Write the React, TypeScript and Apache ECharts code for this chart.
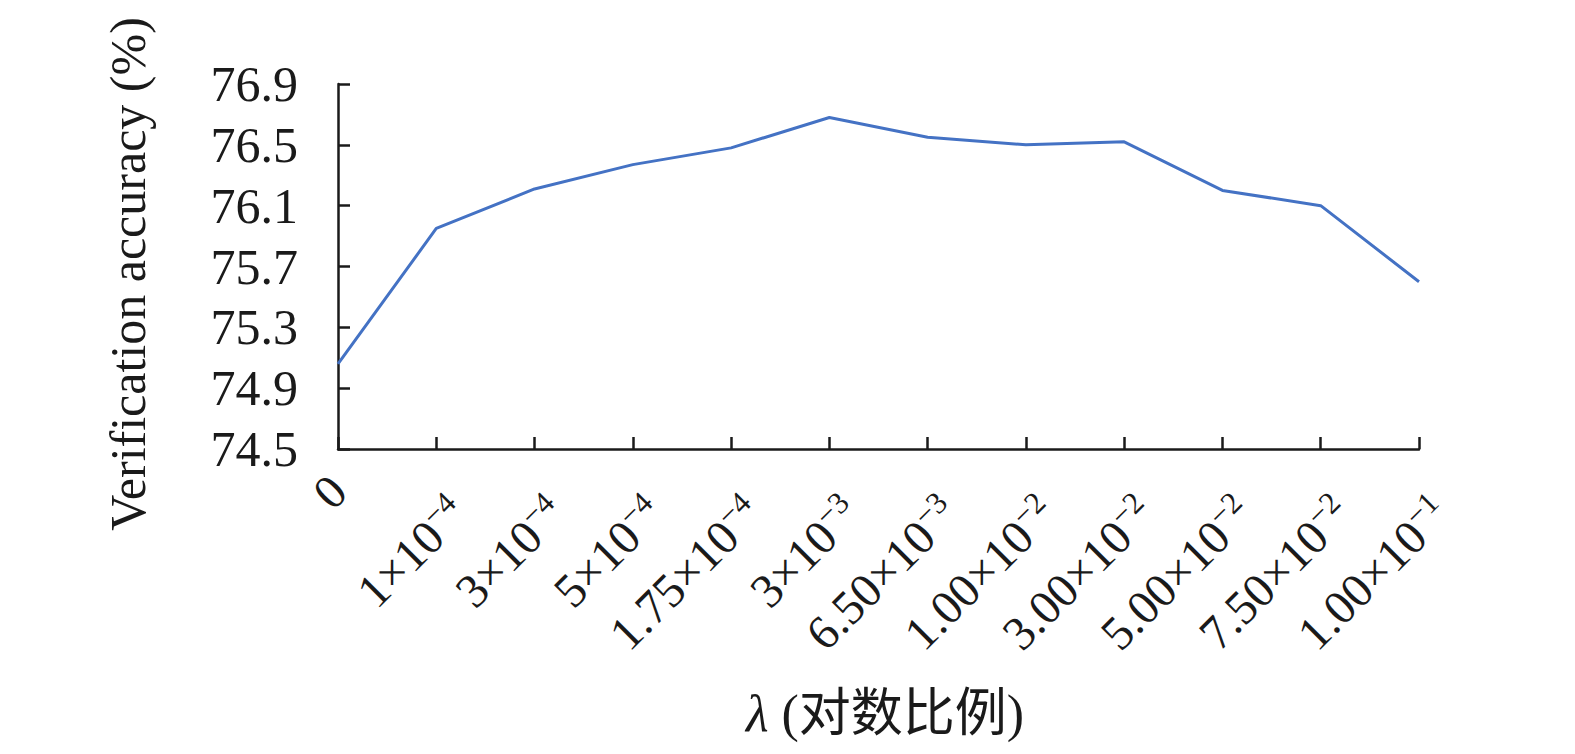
import React, { useEffect, useRef } from 'react';
import * as echarts from 'echarts';

const categories = ['0', '1×10^−4', '3×10^−4', '5×10^−4', '1.75×10^−4', '3×10^−3', '6.50×10^−3', '1.00×10^−2', '3.00×10^−2', '5.00×10^−2', '7.50×10^−2', '1.00×10^−1'];
const accuracy = [75.06, 75.95, 76.21, 76.37, 76.48, 76.68, 76.55, 76.5, 76.52, 76.2, 76.1, 75.6];
const yTicks = [74.5, 74.9, 75.3, 75.7, 76.1, 76.5, 76.9];
const yAxisName = 'Verification accuracy (%)';
const xAxisSymbol = 'λ';
const xAxisRest = ' (对数比例)';

const SERIF = 'Liberation Serif';
const CJK = 'Liberation Serif, Noto Sans CJK SC';
const INK = '#1a1a1a';

export default function App() {
  const ref = useRef<HTMLDivElement>(null);
  useEffect(() => {
    if (!ref.current) return;
    const chart = echarts.init(ref.current, null, { renderer: 'svg' });
    chart.setOption({
      animation: false,
      backgroundColor: '#ffffff',
      grid: { left: 338, right: 156, top: 84, bottom: 305, containLabel: false },
      xAxis: {
        type: 'category',
        data: categories,
        boundaryGap: false,
        axisLine: { lineStyle: { color: INK, width: 2.5 } },
        axisTick: { inside: true, length: 12, lineStyle: { color: INK, width: 2.5 }, alignWithLabel: true },
        axisLabel: {
          rotate: 45,
          margin: 34,
          interval: 0,
          color: INK,
          formatter: (v: string) => {
            const [b, s] = v.split('^');
            return s ? `{b|${b}}{s|${s}}` : `{z|${b}}`;
          },
          rich: {
            z: { fontSize: 48, fontFamily: SERIF, color: INK, lineHeight: 54 },
            b: { fontSize: 48, fontFamily: SERIF, color: INK, lineHeight: 48, verticalAlign: 'bottom' },
            s: { fontSize: 31, fontFamily: SERIF, color: INK, verticalAlign: 'bottom', padding: [60, 0, 20, 0] },
          },
        },
        splitLine: { show: false },
      },
      yAxis: {
        type: 'value',
        min: 74.5,
        max: 76.9,
        axisLine: { show: true, lineStyle: { color: INK, width: 2.5 } },
        axisTick: { show: true, inside: true, length: 12, lineStyle: { color: INK, width: 2.5 }, customValues: yTicks },
        axisLabel: {
          margin: 40,
          fontSize: 50,
          fontFamily: SERIF,
          color: INK,
          customValues: yTicks,
          formatter: (v: number) => v.toFixed(1),
        },
        splitLine: { show: false },
      },
      series: [
        {
          type: 'line',
          data: accuracy,
          symbol: 'none',
          lineStyle: { color: '#4472C4', width: 3 },
          itemStyle: { color: '#4472C4' },
        },
      ],
      graphic: [
        {
          type: 'text',
          x: 128,
          y: 274,
          rotation: Math.PI / 2,
          style: {
            text: yAxisName,
            fontSize: 50,
            fontFamily: SERIF,
            fill: INK,
            align: 'center',
            verticalAlign: 'middle',
            textAlign: 'center',
            textVerticalAlign: 'middle',
          },
        },
        {
          type: 'text',
          x: 885,
          y: 713,
          style: {
            text: `{l|${xAxisSymbol}}{r|${xAxisRest}}`,
            rich: {
              l: { fontSize: 52, fontFamily: SERIF, fontStyle: 'italic', fill: INK },
              r: { fontSize: 52, fontFamily: CJK, fill: INK },
            },
            fill: INK,
            align: 'center',
            verticalAlign: 'middle',
            textAlign: 'center',
            textVerticalAlign: 'middle',
          },
        },
      ],
    });
    return () => chart.dispose();
  }, []);
  return (
    <div
      ref={ref}
      style={{ position: 'fixed', left: 0, top: 0, width: 1575, height: 754, background: '#fff' }}
    />
  );
}
